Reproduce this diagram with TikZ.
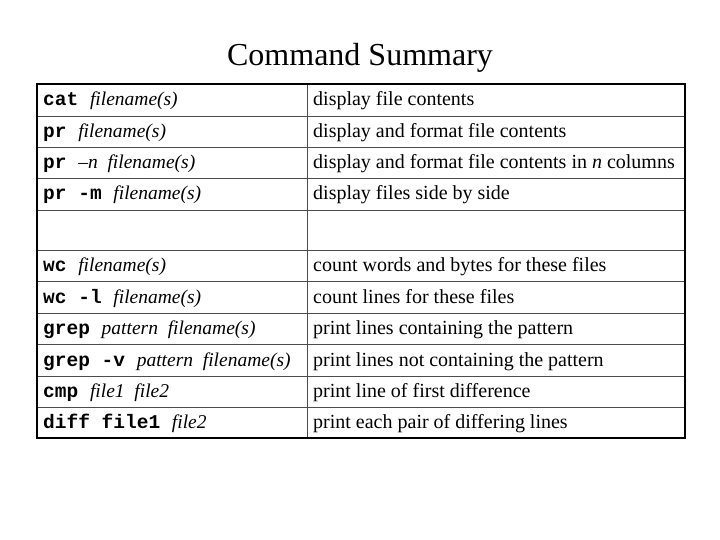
\documentclass[tikz,border=0pt]{standalone}
\usepackage{fontspec}
\setmainfont{Liberation Serif}
\setmonofont{Liberation Mono}
\begin{document}
\begin{tikzpicture}[x=1pt,y=-1pt,
  cell/.style={anchor=base west,inner sep=0pt,font=\fontsize{20}{22}\selectfont},
  tt/.style={font=\fontsize{19.5}{22}\selectfont\ttfamily\bfseries}]
\useasboundingbox (0,0) rectangle (720,540);
\node (title) at (360,58) {\fontsize{32}{35}\selectfont Command Summary};
\foreach \y in {116,147,178,210,250,281,313,344,376,407}
  \draw[line width=0.8pt,black!70] (37,\y) -- (685,\y);
\draw[line width=0.8pt,black!70] (307,84) -- (307,438);
\draw[line width=1.6pt] (37,84) rectangle (685,438);
\newcommand{\ff}[1]{{\rmfamily\mdseries\itshape #1}}
\def\rows{106/{cat \ff{filename(s)}}/{display file contents},
137.5/{pr \ff{filename(s)}}/{display and format file contents},
168.5/{pr \ff{--n\ \ filename(s)}}/{display and format file contents in \textit{n} columns},
200/{pr -m \ff{filename(s)}}/{display files side by side},
271.5/{wc \ff{filename(s)}}/{count words and bytes for these files},
303/{wc -l \ff{filename(s)}}/{count lines for these files},
334.5/{grep \ff{pattern\ \ filename(s)}}/{print lines containing the pattern},
366/{grep -v \ff{pattern\ \ filename(s)}}/{print lines not containing the pattern},
397.5/{cmp \ff{file1\ \ file2}}/{print line of first difference},
428.5/{diff file1 \ff{file2}}/{print each pair of differing lines}}
\foreach \y/\a/\b [count=\i] in \rows {
  \node[cell,tt] (c\i) at (43,\y) {\a};
  \node[cell] (d\i) at (313,\y) {\b};
}
\end{tikzpicture}
\end{document}
